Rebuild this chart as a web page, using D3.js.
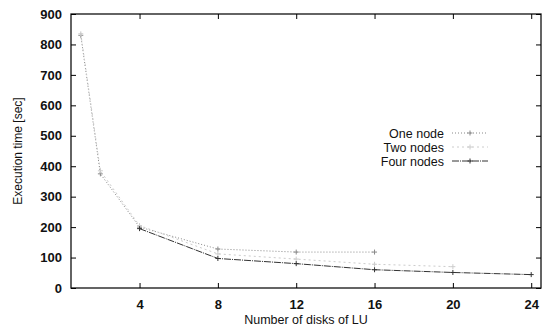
<!DOCTYPE html>
<html>
<head>
<meta charset="utf-8">
<script src="https://cdn.jsdelivr.net/npm/d3@7"></script>
<style>
  body { margin: 0; background: #fff; }
  text { font-family: "Liberation Sans", Arial, sans-serif; fill: #111; }
</style>
</head>
<body>
<svg></svg>
<script>
const size = {w: 544, h: 330};
const margins = {t: 14, r: 3, b: 42, l: 71};

// data
const seriesNames = ['One node', 'Two nodes', 'Four nodes'];
const oneX = [1, 2, 4, 8, 12, 16];
const oneY = [830, 375, 200, 128, 118, 118];
const twoX = [1, 2, 4, 8, 12, 16, 20];
const twoY = [835, 385, 205, 112, 95, 78, 70];
const fourX = [4, 8, 12, 16, 20, 24];
const fourY = [195, 97, 80, 60, 51, 44];
const xTicks = [4, 8, 12, 16, 20, 24];
const yTicks = [0, 100, 200, 300, 400, 500, 600, 700, 800, 900];

const styles = [
    {stroke: '#888', dash: '1,2', width: 1},
    {stroke: '#ccc', dash: '2,3', width: 1},
    {stroke: '#333', dash: '7,1,1,1', width: 1}
];
const series = [
    {name: seriesNames[0], pts: oneX.map((x, i) => ({x: x, y: oneY[i]}))},
    {name: seriesNames[1], pts: twoX.map((x, i) => ({x: x, y: twoY[i]}))},
    {name: seriesNames[2], pts: fourX.map((x, i) => ({x: x, y: fourY[i]}))}
];

const svg = d3.select('svg')
    .attr('width', size.w)
    .attr('height', size.h);

let x = d3.scaleLinear()
    .domain([0.5, 24.5])
    .range([margins.l, size.w - margins.r]);

let y = d3.scaleLinear()
    .domain([0, 900])
    .range([size.h - margins.b, margins.t]);

// frame
svg.append('rect')
    .attr('x', margins.l)
    .attr('y', margins.t)
    .attr('width', size.w - margins.r - margins.l)
    .attr('height', size.h - margins.b - margins.t)
    .attr('fill', 'none')
    .attr('stroke', '#111')
    .attr('stroke-width', 1.3);

// gnuplot style inward ticks, mirrored
svg.append('g')
    .attr('transform', `translate(0, ${size.h - margins.b})`)
    .call(d3.axisBottom(x).tickValues(xTicks).tickSizeInner(-5).tickSizeOuter(0).tickPadding(12))
    .call(g => g.select('.domain').remove())
    .call(g => g.selectAll('text').style('font-size', '13px').style('font-family', '"Liberation Sans", Arial, sans-serif').attr('font-weight', 'bold').attr('fill', '#111'));

svg.append('g')
    .attr('transform', `translate(0, ${margins.t})`)
    .call(d3.axisTop(x).tickValues(xTicks).tickSizeInner(-5).tickSizeOuter(0).tickFormat(''))
    .call(g => g.select('.domain').remove());

svg.append('g')
    .attr('transform', `translate(${margins.l}, 0)`)
    .call(d3.axisLeft(y).tickValues(yTicks).tickSizeInner(-5).tickSizeOuter(0).tickPadding(9))
    .call(g => g.select('.domain').remove())
    .call(g => g.selectAll('text').style('font-size', '13px').style('font-family', '"Liberation Sans", Arial, sans-serif').attr('font-weight', 'bold').attr('fill', '#111'));

svg.append('g')
    .attr('transform', `translate(${size.w - margins.r}, 0)`)
    .call(d3.axisRight(y).tickValues(yTicks).tickSizeInner(-5).tickSizeOuter(0).tickFormat(''))
    .call(g => g.select('.domain').remove());

// axis titles
svg.append('text')
    .attr('transform', `translate(22, ${(margins.t + size.h - margins.b) / 2}) rotate(-90)`)
    .style('text-anchor', 'middle')
    .style('font-size', '12px')
    .text('Execution time [sec]');

svg.append('text')
    .attr('x', 306)
    .attr('y', 324)
    .style('text-anchor', 'middle')
    .style('font-size', '12.5px')
    .text('Number of disks of LU');

// lines
let line = d3.line()
    .x(d => x(d.x))
    .y(d => y(d.y));

let lineG = svg.append('g');
series.forEach((s, i) => {
    lineG.append('path')
        .datum(s.pts)
        .attr('d', line)
        .attr('fill', 'none')
        .attr('stroke', styles[i].stroke)
        .attr('stroke-width', styles[i].width)
        .attr('stroke-dasharray', styles[i].dash);

    lineG.selectAll(null)
        .data(s.pts)
        .join('path')
        .attr('d', d => `M${x(d.x) - 2.5},${y(d.y)}h5M${x(d.x)},${y(d.y) - 2.5}v5`)
        .attr('stroke', styles[i].stroke)
        .attr('stroke-width', 1);
});

// legend
let legend = svg.append('g');
series.forEach((s, i) => {
    let ly = 133 + i * 14;
    legend.append('text')
        .attr('x', 444)
        .attr('y', ly + 4.5)
        .style('text-anchor', 'end')
        .style('font-size', '12.5px')
        .text(s.name);
    legend.append('line')
        .attr('x1', 452).attr('x2', 488)
        .attr('y1', ly).attr('y2', ly)
        .attr('stroke', styles[i].stroke)
        .attr('stroke-width', styles[i].width)
        .attr('stroke-dasharray', styles[i].dash);
    legend.append('path')
        .attr('d', `M467.5,${ly}h5M470,${ly - 2.5}v5`)
        .attr('stroke', styles[i].stroke);
});
</script>
</body>
</html>
